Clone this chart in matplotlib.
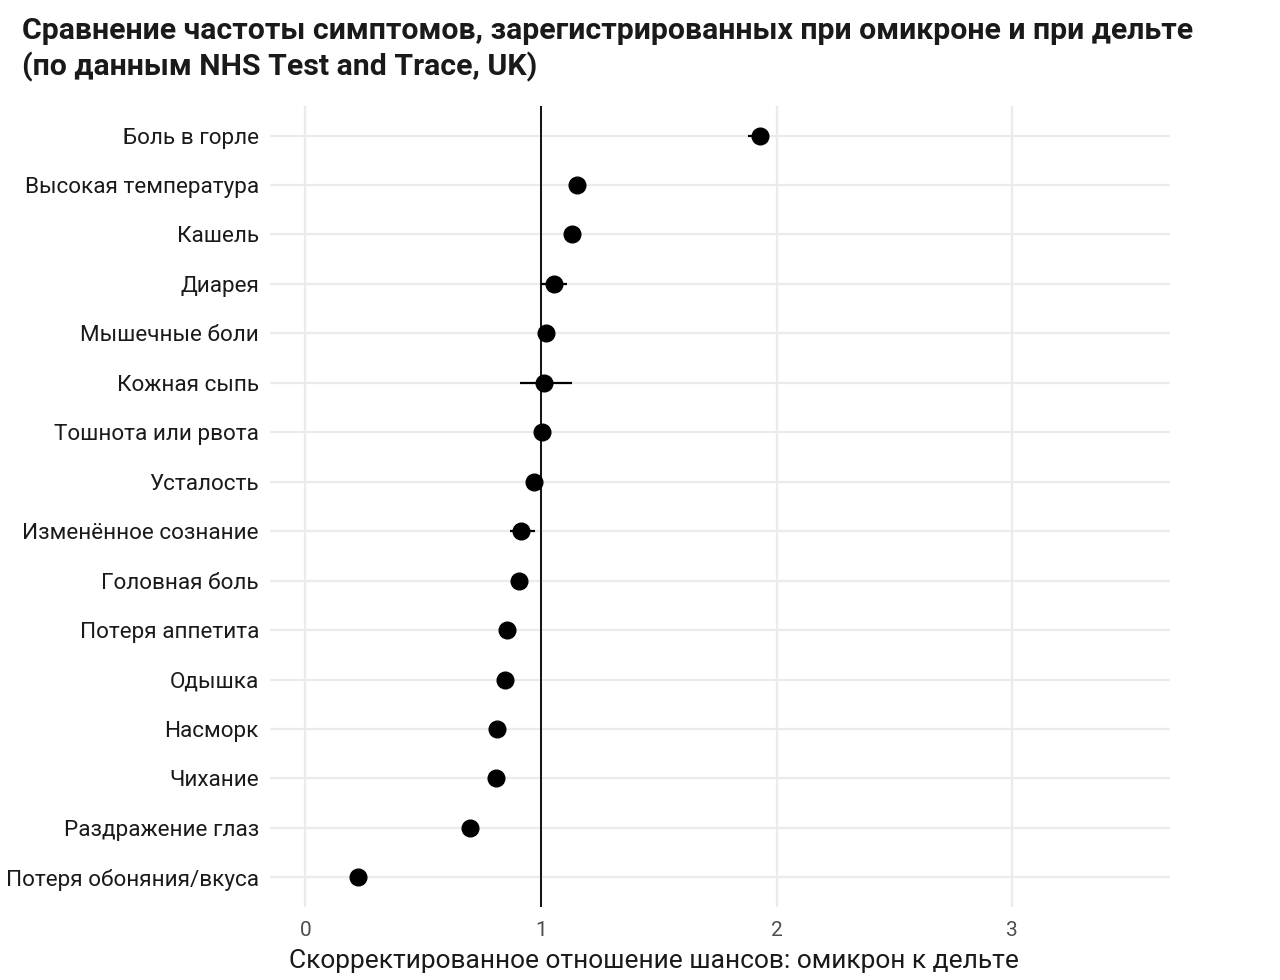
import numpy as np
import matplotlib.pyplot as plt

plt.rcParams['font.family'] = ['Roboto', 'DejaVu Sans']

symptoms = ["Боль в горле", "Высокая температура", "Кашель", "Диарея",
            "Мышечные боли", "Кожная сыпь", "Тошнота или рвота", "Усталость",
            "Изменённое сознание", "Головная боль", "Потеря аппетита", "Одышка",
            "Насморк", "Чихание", "Раздражение глаз", "Потеря обоняния/вкуса"]
odds = [1.93, 1.155, 1.133, 1.057, 1.023, 1.014, 1.006, 0.972,
        0.917, 0.908, 0.857, 0.849, 0.815, 0.811, 0.70, 0.225]
ci_low = [1.88, 1.13, 1.11, 1.00, 1.00, 0.91, 0.97, 0.95,
          0.87, 0.89, 0.84, 0.83, 0.80, 0.79, 0.68, 0.21]
ci_high = [1.97, 1.18, 1.15, 1.11, 1.05, 1.13, 1.04, 0.99,
           0.976, 0.93, 0.875, 0.87, 0.83, 0.83, 0.72, 0.24]

odds = np.array(odds)
y = np.arange(len(symptoms), 0, -1)
err = [odds - np.array(ci_low), np.array(ci_high) - odds]

fig = plt.figure(figsize=(12.8, 9.8), dpi=100)
ax = fig.add_axes([0.211, 0.0745, 0.703, 0.8175])

ax.axvline(1, color="black", lw=1.3, zorder=2)
ax.errorbar(odds, y, xerr=err, fmt="o", color="black", ms=12,
            elinewidth=1.6, capsize=0, zorder=3)

ax.set_xlim(-0.15, 3.67)
ax.set_ylim(0.4, len(symptoms) + 0.6)
ax.set_xticks([0, 1, 2, 3])
ax.set_yticks(y)
ax.set_yticklabels(symptoms, fontsize=16.2, color="#1a1a1a")
ax.tick_params(axis="x", labelsize=15, labelcolor="#4d4d4d", length=0, pad=10)
ax.tick_params(axis="y", length=0, pad=8)
ax.grid(True, color="#ebebeb", lw=1.6, zorder=0)
ax.set_axisbelow(True)
for s in ax.spines.values():
    s.set_visible(False)

fig.text(654 / 1280, 1 - 961 / 980, "Скорректированное отношение шансов: омикрон к дельте",
         fontsize=19, color="#1a1a1a", ha="center", va="center")

fig.text(0.017, 1 - 31 / 980, "Сравнение частоты симптомов, зарегистрированных при омикроне и при дельте",
         fontsize=21.8, fontweight="bold", color="#1a1a1a", va="center", ha="left")
fig.text(0.017, 1 - 67 / 980, "(по данным NHS Test and Trace, UK)",
         fontsize=21.8, fontweight="bold", color="#1a1a1a", va="center", ha="left")

plt.savefig("out.png", dpi=100)
